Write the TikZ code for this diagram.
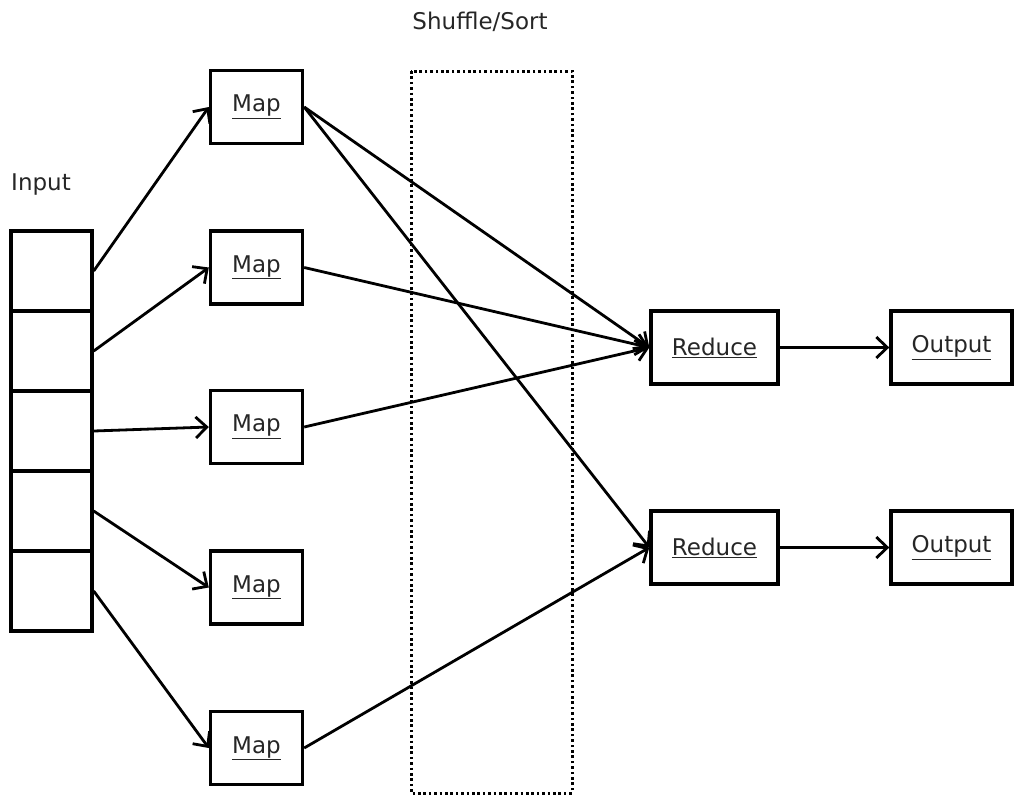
\documentclass[tikz,border=0pt]{standalone}
\usepackage{fontspec}
\setmainfont{DejaVu Sans}
\usetikzlibrary{arrows.meta}
\begin{document}
\begin{tikzpicture}[x=1pt,y=-1pt,
  box/.style={draw, line width=3.4pt, rectangle, inner sep=0pt, minimum height=73pt,
    font=\fontsize{23}{27}\selectfont, text=black!85},
  mapbox/.style={box, minimum width=92pt},
  redbox/.style={box, minimum width=127pt},
  outbox/.style={box, minimum width=121pt},
  cell/.style={draw, line width=3.4pt, rectangle, inner sep=0pt, minimum width=81pt, minimum height=80pt},
  lbl/.style={font=\fontsize{23}{27}\selectfont, text=black!85, inner sep=0pt},
  conn/.style={line width=2.8pt, -{Straight Barb[length=11pt,width=21pt,line width=2.8pt]}},
  shuf/.style={line width=3pt, dash pattern=on 2.6pt off 2.8pt}
]
\useasboundingbox (0,0) rectangle (1016,803);
\node[lbl] (shuflbl) at (480,22) {Shuffle/Sort};
\node[lbl] (inlbl) at (41,185) {Input};
\draw[shuf] (411,71) rectangle (572,793);
\node[cell] (c1) at (51.5,271) {};
\node[cell] (c2) at (51.5,351) {};
\node[cell] (c3) at (51.5,431) {};
\node[cell] (c4) at (51.5,511) {};
\node[cell] (c5) at (51.5,591) {};
\node[mapbox] (m1) at (256.5,107) {\underline{Map}};
\node[mapbox] (m2) at (256.5,267.5) {\underline{Map}};
\node[mapbox] (m3) at (256.5,427) {\underline{Map}};
\node[mapbox] (m4) at (256.5,587.5) {\underline{Map}};
\node[mapbox] (m5) at (256.5,748) {\underline{Map}};
\node[redbox] (r1) at (714.5,347.5) {\underline{Reduce}};
\node[redbox] (r2) at (714.5,547.5) {\underline{Reduce}};
\node[outbox] (o1) at (951.5,347.5) {\underline{Output}};
\node[outbox] (o2) at (951.5,547.5) {\underline{Output}};
\draw[conn] (c1.east) -- (m1.west);
\draw[conn] (c2.east) -- (m2.west);
\draw[conn] (c3.east) -- (m3.west);
\draw[conn] (c4.east) -- (m4.west);
\draw[conn] (c5.east) -- (m5.west);
\draw[conn] (m1.east) -- (r1.west);
\draw[conn] (m1.east) -- (r2.west);
\draw[conn] (m2.east) -- (r1.west);
\draw[conn] (m3.east) -- (r1.west);
\draw[conn] (m5.east) -- (r2.west);
\draw[conn] (r1.east) -- (o1.west);
\draw[conn] (r2.east) -- (o2.west);
\end{tikzpicture}
\end{document}
